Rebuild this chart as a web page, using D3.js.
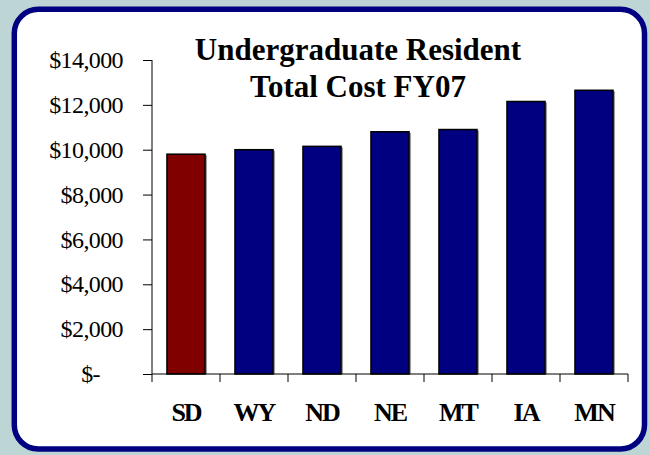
<!DOCTYPE html>
<html><head><meta charset="utf-8">
<script src="https://cdn.jsdelivr.net/npm/d3@7"></script>
<style>body{margin:0;background:#bdd5d5;}svg{display:block;}</style>
</head><body>
<svg id="chart" width="650" height="455"></svg>
<script>
const categories = ["SD","WY","ND","NE","MT","IA","MN"];
const values = [9800, 10000, 10150, 10800, 10900, 12150, 12650];
const barColors = ["#800000","#000080","#000080","#000080","#000080","#000080","#000080"];
const yTicks = [0,2000,4000,6000,8000,10000,12000,14000];
const titleLines = ["Undergraduate Resident","Total Cost FY07"];

const SERIF = '"Liberation Serif", "Times New Roman", Times, serif';
const svg = d3.select("#chart");
svg.append("rect").attr("width",650).attr("height",455).attr("fill","#bdd5d5");
svg.append("rect").attr("x",14.3).attr("y",9.3).attr("width",630.2).attr("height",439.7)
  .attr("rx",24).attr("ry",24).attr("fill","#ffffff").attr("stroke","#000080").attr("stroke-width",5.5);

const m = {left:152, right:628, top:60, bottom:374};
const x = d3.scaleBand().domain(categories).range([m.left,m.right]).paddingInner(0.44).paddingOuter(0.22);
const y = d3.scaleLinear().domain([0,14000]).range([m.bottom,m.top]);

// bars with slight shadow
const g = svg.append("g");
g.selectAll("rect.shadow").data(values).join("rect").attr("class","shadow")
  .attr("x",(d,i)=>x(categories[i])+2).attr("y",d=>y(d)+1)
  .attr("width",x.bandwidth()).attr("height",d=>y(0)-y(d)-1)
  .attr("fill","#a0a0a0");
g.selectAll("rect.bar").data(values).join("rect").attr("class","bar")
  .attr("x",(d,i)=>x(categories[i])).attr("y",d=>y(d))
  .attr("width",x.bandwidth()).attr("height",d=>y(0)-y(d))
  .attr("fill",(d,i)=>barColors[i]).attr("stroke","#000").attr("stroke-width",1.5);

// y axis
const fmt = d => d===0 ? "$-" : "$" + d3.format(",")(d);
const yAxis = svg.append("g").attr("transform",`translate(${m.left},0)`)
  .call(d3.axisLeft(y).tickValues(yTicks).tickFormat(fmt).tickSize(9).tickPadding(20));
yAxis.select(".domain").attr("stroke","#000").attr("d",`M0,${m.top}V${m.bottom}`);
yAxis.selectAll(".tick line").attr("stroke","#000");
yAxis.selectAll(".tick text").style("font-family",SERIF)
  .style("font-size","24px").attr("fill","#000").style("letter-spacing","-0.6px")
  .attr("dx",d=>d===0?-23:0);

// x axis
const xAxis = svg.append("g").attr("transform",`translate(0,${m.bottom})`)
  .call(d3.axisBottom(x).tickSize(0).tickPadding(0));
xAxis.select(".domain").attr("stroke","#000").attr("d",`M${m.left},0H${m.right}`);
xAxis.selectAll(".tick text").style("font-family",SERIF)
  .style("font-weight","bold").style("font-size","26px").attr("fill","#000").style("letter-spacing","-2px")
  .attr("y",47).attr("dy",0);
const bounds = [m.left, ...categories.map(c=>x(c)+x.bandwidth()+x.step()*x.paddingInner()/2)];
bounds[bounds.length-1] = m.right;
xAxis.selectAll("line.sep").data(bounds).join("line").attr("class","sep")
  .attr("x1",d=>d).attr("x2",d=>d).attr("y1",0).attr("y2",8).attr("stroke","#000");

// title
svg.append("text").attr("text-anchor","middle")
  .style("font-family",SERIF).style("font-weight","bold")
  .style("font-size","31px").attr("fill","#000")
  .selectAll("tspan").data(titleLines).join("tspan")
  .attr("x",358).attr("y",(d,i)=>60+i*37).text(d=>d);
</script>
</body></html>
